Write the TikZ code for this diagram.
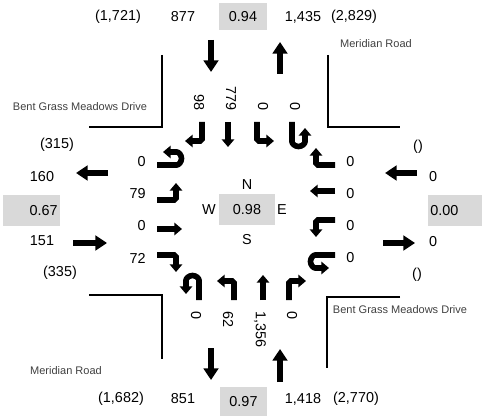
\documentclass[tikz,border=0pt]{standalone}
\usepackage{fontspec}
\setmainfont{Liberation Sans}
\usepackage{xcolor}
\definecolor{vcfill}{HTML}{D9D9D9}
\definecolor{roadtxt}{HTML}{404040}
\usepackage{tikz}
\usetikzlibrary{arrows.meta}
\tikzset{
  vol/.style     = {font=\fontsize{12.3}{14}\selectfont,inner sep=1pt},
  vcbox/.style   = {vol,fill=vcfill,inner sep=2pt,minimum height=0.93cm},
  roadlbl/.style = {font=\fontsize{9.4}{11}\selectfont,text=roadtxt,inner sep=1pt},
  road/.style    = {line width=1.6pt},
  bigarr/.style  = {line width=5.2pt,-{Triangle[length=10pt,width=12.5pt]}},
  turnarr/.style = {line width=4.8pt,rounded corners=1.5pt,
                     -{Triangle[length=6.5pt,width=10.5pt]}},
}
\newcommand{\approachset}[8]{%
  \begin{scope}[shift={#2},rotate=#3]
    \draw[turnarr] (0,-45) -- (19,-45) -- (19,-62);
    \draw[turnarr] (0,-19) -- (25,-19);
    \draw[turnarr] (0,10) -- (19,10) -- (19,27);
    \draw[turnarr] (0,45) -- (18,45) arc[start angle=-90,end angle=90,radius=6.5] -- (6,58);
    \node[vol,#4] (#1-rt) at (-10,-48) {#5};
    \node[vol,#4] (#1-th) at (-10,-16) {#6};
    \node[vol,#4] (#1-lt) at (-10,16) {#7};
    \node[vol,#4] (#1-ut) at (-10,48) {#8};
  \end{scope}%
}

\begin{document}
\begin{tikzpicture}[x=0.03cm,y=0.03cm]
  \useasboundingbox (0,0) rectangle (482,416);

  % corners of the roads
  \draw[road] (162,361) -- (162,289) -- (89,289);
  \draw[road] (328,361) -- (328,289) -- (400,289);
  \draw[road] (89,121) -- (162,121) -- (162,57);
  \draw[road] (400,119) -- (327,119) -- (327,48);
  \node[roadlbl] (rd-nw) at (80,309) {Bent Grass Meadows Drive};
  \node[roadlbl] (rd-ne) at (376,372) {Meridian Road};
  \node[roadlbl] (rd-sw) at (66,45) {Meridian Road};
  \node[roadlbl] (rd-se) at (400,106) {Bent Grass Meadows Drive};

  % lane movements
  \approachset{wb}{(157,206)}{0}{anchor=east}{72}{0}{79}{0}
  \approachset{sb}{(247,294)}{-90}{anchor=east,rotate=-90}{98}{779}{0}{0}
  \approachset{eb}{(335,206)}{180}{anchor=west}{0}{0}{0}{0}
  \approachset{nb}{(244,116)}{90}{anchor=west,rotate=-90}{0}{1,356}{62}{0}

  % intersection
  \node[vcbox,minimum width=1.68cm] (c-vc) at (247,206.5) {0.98};
  \node[vol] (c-n) at (247,231) {N};
  \node[vol] (c-s) at (247,176) {S};
  \node[vol] (c-w) at (209,206) {W};
  \node[vol] (c-e) at (282,206) {E};

  % north leg
  \node[vol] (n-tot1) at (118,399) {(1,721)};
  \node[vol] (n-sb) at (183,399) {877};
  \node[vcbox,minimum width=1.44cm,minimum height=0.81cm] (n-vc) at (243,399.5) {0.94};
  \node[vol] (n-nb) at (303,399) {1,435};
  \node[vol] (n-tot2) at (354,399) {(2,829)};
  \draw[bigarr] (211,376) -- (211,344);
  \draw[bigarr] (280,342) -- (280,374);

  % south leg
  \node[vol] (s-tot1) at (121,17) {(1,682)};
  \node[vol] (s-sb) at (183,17) {851};
  \node[vcbox,minimum width=1.41cm,minimum height=0.87cm] (s-vc) at (243.5,14.5) {0.97};
  \node[vol] (s-nb) at (303,17) {1,418};
  \node[vol] (s-tot2) at (356,17) {(2,770)};
  \draw[bigarr] (211,68) -- (211,36);
  \draw[bigarr] (280,34) -- (280,67);

  % west leg
  \node[vol] (w-tot1) at (57,271) {(315)};
  \node[vol] (w-wb) at (42,239) {160};
  \node[vcbox,text width=1.57cm,align=right] (w-vc) at (31.5,205.5) {0.67};
  \node[vol] (w-eb) at (42,175) {151};
  \node[vol] (w-tot2) at (60,143) {(335)};
  \draw[bigarr] (108,243) -- (76,243);
  \draw[bigarr] (73,173) -- (107,173);

  % east leg
  \node[vol] (e-tot1) at (418,269.5) {()};
  \node[vol] (e-wb) at (433,239.5) {0};
  \node[vcbox,text width=1.48cm,align=left] (e-vc) at (455,205.5) {0.00};
  \node[vol] (e-eb) at (433,174) {0};
  \node[vol] (e-tot2) at (417,141) {()};
  \draw[bigarr] (417,243) -- (385,243);
  \draw[bigarr] (383,173) -- (415,173);
\end{tikzpicture}
\end{document}
